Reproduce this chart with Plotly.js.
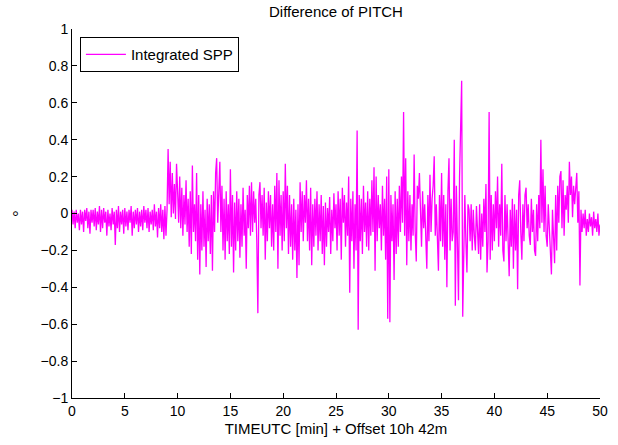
<!DOCTYPE html>
<html>
<head>
<meta charset="utf-8">
<script src="https://cdn.plot.ly/plotly-3.0.1.min.js"></script>
<style>html,body{margin:0;padding:0;background:#fff;}#chart{width:618px;height:445px;}</style>
</head>
<body>
<div id="chart"></div>
<script>
// Sampling of the time axis (minutes after 10h 42m)
const timeStart = 0;
const timeStep = 0.1;

// Difference of PITCH [deg], one row per minute
const pitchDiff = [
  0.02, -0.06, 0.01, -0.08, 0.02, -0.05, 0.00, -0.09, 0.02, -0.06,
  0.01, -0.10, 0.02, -0.04, 0.03, -0.08, 0.01, -0.11, 0.02, -0.05,
  0.02, -0.07, 0.03, -0.09, 0.01, -0.06, 0.04, -0.10, 0.02, -0.08,
  0.03, -0.05, 0.01, -0.12, 0.02, -0.07, 0.00, -0.09, 0.03, -0.06,
  0.01, -0.17, 0.02, -0.08, 0.04, -0.10, 0.01, -0.06, 0.02, -0.11,
  0.03, -0.07, 0.01, -0.09, 0.02, -0.05, 0.04, -0.12, 0.01, -0.08,
  0.02, -0.06, 0.03, -0.10, 0.01, -0.07, 0.02, -0.09, 0.04, -0.05,
  0.02, -0.08, 0.03, -0.10, 0.01, -0.06, 0.02, -0.09, 0.05, -0.07,
  0.01, -0.13, 0.03, -0.08, 0.05, -0.10, 0.02, -0.14, 0.04, -0.12,
  0.02, 0.35, 0.05, 0.28, -0.02, 0.22, 0.00, 0.16, -0.03, 0.27,
  0.12, -0.05, 0.20, -0.08, 0.14, -0.12, 0.10, -0.06, 0.18, -0.10,
  0.08, -0.18, 0.12, -0.22, 0.26, -0.10, 0.05, -0.15, 0.22, -0.25,
  0.10, -0.33, 0.05, -0.20, 0.12, -0.18, 0.02, -0.29, 0.08, -0.15,
  0.05, -0.22, 0.10, -0.31, 0.12, -0.10, 0.22, 0.30, -0.05, 0.20,
  0.28, -0.10, 0.15, -0.20, 0.08, -0.25, 0.12, -0.15, 0.05, -0.22,
  0.24, -0.18, 0.10, -0.32, 0.06, -0.20, 0.12, -0.15, 0.08, -0.24,
  0.05, -0.18, 0.14, -0.12, 0.02, -0.30, 0.10, -0.08, 0.15, -0.12,
  0.17, -0.10, 0.12, -0.05, 0.08, -0.15, -0.54, 0.10, 0.17, -0.08,
  0.10, -0.12, 0.14, -0.25, 0.06, -0.15, 0.12, -0.08, 0.10, -0.18,
  0.05, -0.20, 0.15, -0.10, 0.22, -0.30, 0.18, -0.12, 0.10, -0.20,
  0.12, -0.15, 0.27, -0.08, 0.15, -0.22, 0.10, -0.18, 0.05, -0.25,
  0.08, -0.20, 0.02, -0.35, 0.05, -0.28, 0.17, -0.10, 0.12, -0.15,
  0.10, -0.05, 0.18, -0.15, 0.08, -0.20, 0.14, -0.28, 0.05, -0.18,
  0.08, -0.12, 0.12, -0.20, 0.05, -0.15, 0.10, -0.22, 0.04, -0.28,
  0.06, -0.18, 0.03, -0.10, 0.09, -0.22, 0.02, -0.15, 0.11, -0.08,
  0.05, -0.20, 0.12, -0.12, 0.08, -0.25, 0.14, -0.05, 0.10, -0.18,
  0.06, -0.12, 0.20, -0.43, 0.08, -0.15, 0.12, -0.30, 0.05, -0.20,
  0.45, -0.63, 0.10, -0.15, 0.08, -0.22, 0.15, -0.10, 0.06, -0.18,
  0.12, -0.20, 0.08, -0.12, 0.18, -0.10, 0.25, -0.31, 0.20, -0.15,
  0.10, -0.08, 0.05, -0.20, 0.15, -0.12, 0.08, -0.25, 0.20, -0.57,
  0.24, -0.59, 0.10, -0.15, 0.05, -0.36, 0.12, -0.22, 0.08, -0.18,
  0.15, -0.10, 0.20, -0.05, 0.55, -0.12, 0.30, -0.28, 0.12, -0.15,
  0.10, -0.20, 0.05, -0.12, 0.32, -0.10, -0.26, 0.15, 0.08, 0.22,
  -0.05, -0.18, 0.12, -0.08, 0.05, -0.20, -0.30, 0.10, -0.15, 0.21,
  -0.10, 0.08, 0.15, 0.31, -0.12, 0.05, -0.20, -0.31, 0.10, -0.15,
  0.22, -0.18, 0.10, -0.25, 0.05, -0.40, 0.12, 0.30, -0.20, 0.08,
  -0.15, -0.10, 0.40, -0.50, 0.15, -0.25, -0.47, 0.20, 0.42, 0.72,
  -0.56, -0.20, 0.10, -0.15, -0.32, 0.05, 0.02, -0.15, 0.05, -0.20,
  0.02, -0.12, -0.20, 0.04, -0.10, -0.22, 0.05, -0.25, 0.00, -0.18,
  0.08, -0.10, 0.16, -0.32, -0.15, 0.55, -0.25, 0.10, -0.20, 0.05,
  -0.15, 0.12, -0.08, 0.20, -0.18, 0.05, -0.12, 0.27, -0.20, -0.26,
  0.10, -0.15, 0.05, -0.22, -0.34, 0.02, -0.18, 0.08, -0.30, 0.05,
  -0.20, 0.02, -0.41, 0.10, 0.18, -0.10, -0.25, 0.05, -0.15, 0.10,
  0.14, -0.08, 0.05, -0.12, -0.17, 0.08, -0.10, 0.02, -0.20, -0.23,
  0.05, -0.15, 0.10, -0.08, 0.40, -0.05, 0.24, -0.10, 0.15, -0.12,
  -0.18, 0.05, -0.10, -0.22, -0.33, 0.02, -0.15, -0.27, 0.10, -0.20,
  0.15, -0.05, 0.20, 0.23, -0.08, 0.18, -0.12, 0.10, 0.02, 0.15,
  -0.05, 0.28, 0.10, 0.20, -0.02, 0.15, 0.05, 0.18, 0.22, -0.05,
  0.12, -0.39, 0.02, -0.10, 0.00, -0.08, 0.02, -0.12, -0.03, -0.10,
  0.00, -0.07, -0.02, -0.12, 0.01, -0.08, -0.03, -0.10, 0.00, -0.12,
  -0.06
];

const seriesName = "Integrated SPP";
const chartTitle = "Difference of PITCH";
const xTitle = "TIMEUTC [min] + Offset 10h 42m";
const yTitle = "°";
const xTicks = [0, 5, 10, 15, 20, 25, 30, 35, 40, 45, 50];
const yTicks = [-1, -0.8, -0.6, -0.4, -0.2, 0, 0.2, 0.4, 0.6, 0.8, 1];
const yTickText = ["\u22121", "\u22120.8", "\u22120.6", "\u22120.4", "\u22120.2", "0", "0.2", "0.4", "0.6", "0.8", "1"];

const times = pitchDiff.map((_, i) => +(timeStart + i * timeStep).toFixed(2));

const fam = "Liberation Sans, Arial, sans-serif";
const tickFont = {family: fam, size: 14, color: "#000"};
const labelFont = {family: fam, size: 15, color: "#000"};

const data = [{
  x: times, y: pitchDiff, type: "scatter", mode: "lines",
  name: seriesName, line: {color: "#ff00ff", width: 1.3}
}];

const layout = {
  width: 618, height: 445,
  margin: {l: 72, r: 18, t: 29, b: 46.5, pad: 0},
  paper_bgcolor: "#fff", plot_bgcolor: "#fff",
  font: labelFont,
  showlegend: true,
  title: {text: chartTitle, font: labelFont, x: 0.5, xref: "paper", xanchor: "center", y: 1, yref: "container", yanchor: "top", pad: {t: 6}},
  legend: {x: 0.015, y: 0.978, xanchor: "left", yanchor: "top", bordercolor: "#000", borderwidth: 1, bgcolor: "#fff", font: labelFont, tracegroupgap: 0, itemwidth: 40},
  xaxis: {
    range: [0, 50], tickvals: xTicks, ticktext: xTicks.map(String),
    ticks: "inside", ticklen: 5, tickcolor: "#000", showline: true, linecolor: "#000", linewidth: 1,
    showgrid: false, zeroline: false, mirror: false, tickfont: tickFont,
    title: {text: xTitle, font: labelFont, standoff: 5}
  },
  yaxis: {
    range: [-1, 1], tickvals: yTicks, ticktext: yTickText,
    ticks: "inside", ticklen: 5, tickcolor: "#000", showline: true, linecolor: "#000", linewidth: 1,
    showgrid: false, zeroline: false, mirror: false, tickfont: tickFont,
    title: {text: yTitle, font: {family: fam, size: 17, color: "#000"}, standoff: 10}
  }
};

Plotly.newPlot("chart", data, layout, {staticPlot: true, displayModeBar: false});
</script>
</body>
</html>
